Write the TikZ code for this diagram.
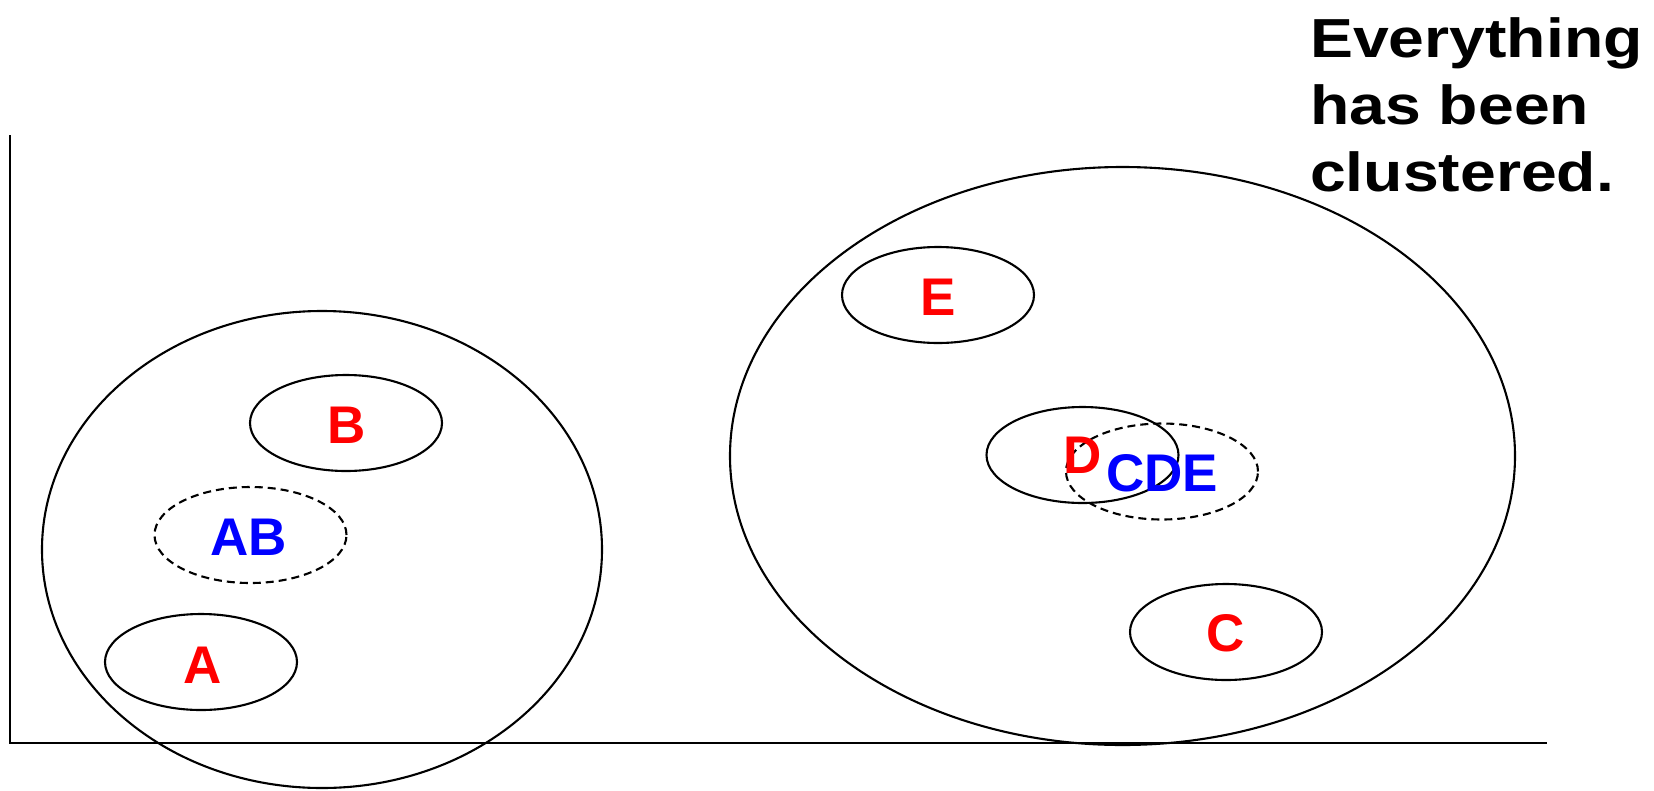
\documentclass[tikz,border=0pt]{standalone}
\usepackage{fontspec}
\setmainfont{Liberation Sans}
\usetikzlibrary{shapes.geometric}
\definecolor{lblred}{RGB}{255,0,0}
\definecolor{lblblue}{RGB}{0,0,255}
\begin{document}
\begin{tikzpicture}[x=1pt,y=-1pt,
  axisline/.style={line width=2.6pt},
  bigclu/.style={draw, ellipse, line width=2.1pt, inner sep=0pt},
  clu/.style={draw, ellipse, line width=2.1pt, minimum width=192pt, minimum height=96pt, inner sep=0pt},
  merged/.style={clu, dash pattern=on 8pt off 5pt},
  ptlabel/.style={text=lblred, font=\bfseries\fontsize{53}{60}\selectfont, inner sep=0pt, anchor=base},
  mlabel/.style={text=lblblue, font=\bfseries\fontsize{53}{60}\selectfont, inner sep=0pt, anchor=base},
  note/.style={font=\bfseries\fontsize{55}{60}\selectfont, inner sep=0pt, anchor=base west}]
\useasboundingbox (0,0) rectangle (1654,790);
% axes
\coordinate (ytop) at (10,135);
\coordinate (orig) at (10,743);
\coordinate (xend) at (1547,743);
\draw[axisline] (ytop) -- (orig) -- (xend);
% big clusters
\node[bigclu, minimum width=560pt, minimum height=477pt] (L) at (322,549.5) {};
\node[bigclu, minimum width=785pt, minimum height=578pt] (R) at (1122.5,456) {};
% small clusters
\node[clu] (eB) at (346,423) {};
\node[merged] (eAB) at (250.5,535) {};
\node[clu] (eA) at (201,662) {};
\node[clu] (eE) at (938,295) {};
\node[clu] (eD) at (1082.5,455) {};
\node[merged] (eCDE) at (1162,471.5) {};
\node[clu] (eC) at (1226,632) {};
% labels
\node[ptlabel] (tB) at (347,443) {B};
\node[mlabel] (tAB) at (249,555) {AB};
\node[ptlabel] (tA) at (202.5,683) {A};
\node[ptlabel] (tE) at (938,315) {E};
\node[ptlabel] (tD) at (1083,473) {D};
\node[mlabel] (tCDE) at (1162,491) {CDE};
\node[ptlabel] (tC) at (1226,651) {C};
% note
\node[note] (n1) at (1310,57) {\scalebox{1.17}[1]{Everything}};
\node[note] (n2) at (1310,124) {\scalebox{1.17}[1]{has been}};
\node[note] (n3) at (1310,191) {\scalebox{1.17}[1]{clustered.}};
\end{tikzpicture}
\end{document}
